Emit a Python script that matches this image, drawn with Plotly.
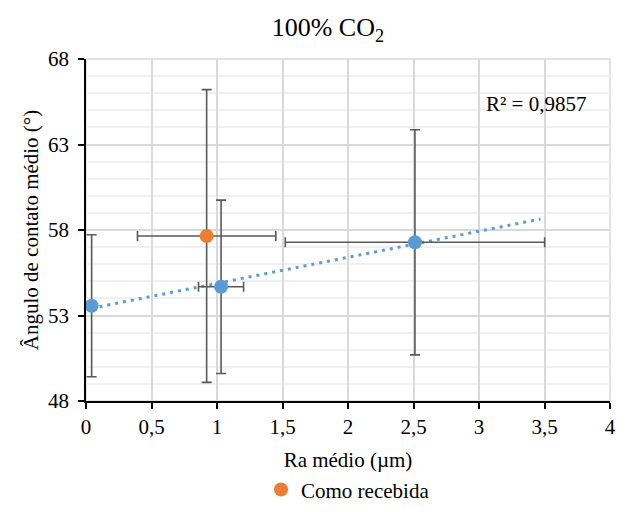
import numpy as np
import plotly.graph_objects as go

# Blue series (points used for the linear trendline)
ra_blue = [0.043, 1.031, 2.511]
ang_blue = [53.57, 54.68, 57.28]
ra_err_blue = [0.0, 0.172, 0.99]
ang_err_blue = [4.15, 5.07, 6.58]

# "Como recebida" series
ra_rec = [0.921]
ang_rec = [57.65]
ra_err_rec = [0.528]
ang_err_rec = [8.56]

r2_label = "R² = 0,9857"

BLUE = "#5b9bd5"
ORANGE = "#ed7d31"
ERR = "#595959"
FONT = "Liberation Serif"

# Linear least-squares trendline, extended forward to x = 3.47
slope, intercept = np.polyfit(ra_blue, ang_blue, 1)
trend_x = np.array([min(ra_blue), 3.47])
trend_y = slope * trend_x + intercept

fig = go.Figure()

fig.add_trace(go.Scatter(
    x=trend_x, y=trend_y, mode="lines",
    line=dict(color=BLUE, width=3, dash="3px,5px"),
    showlegend=False, hoverinfo="skip",
))

fig.add_trace(go.Scatter(
    x=ra_blue, y=ang_blue, mode="markers",
    marker=dict(color=BLUE, size=14),
    error_x=dict(type="data", array=ra_err_blue, color=ERR, thickness=1.6, width=5),
    error_y=dict(type="data", array=ang_err_blue, color=ERR, thickness=1.6, width=5),
    showlegend=False,
))

fig.add_trace(go.Scatter(
    x=ra_rec, y=ang_rec, mode="markers", name="Como recebida",
    marker=dict(color=ORANGE, size=14),
    error_x=dict(type="data", array=ra_err_rec, color=ERR, thickness=1.6, width=5),
    error_y=dict(type="data", array=ang_err_rec, color=ERR, thickness=1.6, width=5),
))

fig.add_annotation(
    x=3.04, y=65.37, xref="x", yref="y", text=r2_label, showarrow=False,
    xanchor="left", yanchor="middle", font=dict(family=FONT, size=21, color="#000"),
)

# light border around the plot area (top and right edges)
fig.add_shape(type="rect", xref="paper", yref="paper", x0=0, y0=0, x1=1, y1=1,
              line=dict(color="#d9d9d9", width=1.5), layer="below")

fig.update_layout(
    width=628, height=512,
    margin=dict(l=86, r=18, t=59, b=111, autoexpand=False),
    paper_bgcolor="white", plot_bgcolor="white",
    separators=",.",
    font=dict(family=FONT, size=21, color="#000"),
    title=dict(text="100% CO<sub>2</sub>", x=0.522, xanchor="center",
               y=0.947, yanchor="middle", font=dict(family=FONT, size=26)),
    showlegend=True,
    legend=dict(orientation="h", x=0.5, xanchor="center", y=-0.26, yanchor="middle",
                font=dict(family=FONT, size=21), itemwidth=30),
    xaxis=dict(
        range=[0, 4], dtick=0.5, tick0=0, automargin=False,
        showgrid=True, gridcolor="#d9d9d9", gridwidth=1.5,
        showline=True, linecolor="#000", linewidth=1.5,
        ticks="outside", ticklen=6, tickcolor="#000", tickwidth=1.5,
        tickfont=dict(family=FONT, size=21),
        ticklabelstandoff=0,
        zeroline=False,
        title=dict(text="Ra médio (µm)", font=dict(family=FONT, size=21), standoff=14),
    ),
    yaxis=dict(
        range=[48, 68], dtick=5, tick0=48, automargin=False,
        showgrid=True, gridcolor="#d9d9d9", gridwidth=1.5,
        minor=dict(dtick=1, showgrid=True, gridcolor="#f0f0f0", gridwidth=1.5),
        showline=True, linecolor="#000", linewidth=1.5,
        ticks="outside", ticklen=6, tickcolor="#000", tickwidth=1.5,
        tickfont=dict(family=FONT, size=21),
        ticklabelstandoff=5,
        zeroline=False,
        title=dict(text="Ângulo de contato médio (°)", font=dict(family=FONT, size=21), standoff=4),
    ),
)

fig.write_html("out.html")
